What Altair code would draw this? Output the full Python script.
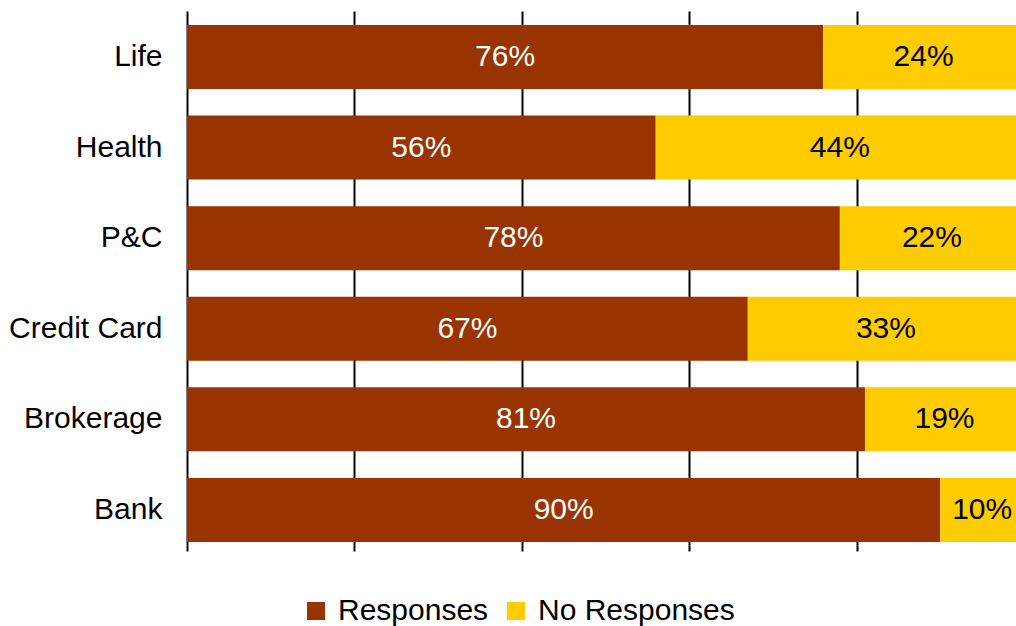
import altair as alt
import pandas as pd

categories = ["Life", "Health", "P&C", "Credit Card", "Brokerage", "Bank"]
responses = [76, 56, 78, 67, 81, 90]
no_responses = [24, 44, 22, 33, 19, 10]
series_names = ["Responses", "No Responses"]
series_colors = ["#993300", "#FFCC00"]
grid_values = [0, 20, 40, 60, 80]

rows = []
for c, r, n in zip(categories, responses, no_responses):
    rows.append({"category": c, "series": series_names[0], "value": r, "order": 0})
    rows.append({"category": c, "series": series_names[1], "value": n, "order": 1})
df = pd.DataFrame(rows)

FONT = "Liberation Sans"
FS = 30

y_scale = alt.Scale(paddingInner=0.2936, paddingOuter=0.094, align=0.82)
x_scale = alt.Scale(domain=[0, 99.044], nice=False, zero=True)

base = alt.Chart(df).transform_stack(
    stack="value", groupby=["category"], as_=["x0", "x1"],
    sort=[alt.SortField("order", order="ascending")]
).transform_calculate(
    mid="(datum.x0 + datum.x1) / 2",
    label="datum.value + '%'"
)

bars = base.mark_bar(clip=True).encode(
    y=alt.Y("category:N", sort=categories, scale=y_scale,
            axis=alt.Axis(title=None, ticks=False, domain=False,
                          labelFontSize=FS, labelFont=FONT, labelColor="black",
                          labelPadding=25)),
    x=alt.X("x0:Q", scale=x_scale,
            axis=alt.Axis(title=None, labels=False, domain=False, ticks=True,
                          tickSize=6, tickColor="black", tickWidth=2,
                          grid=True, gridColor="black", gridWidth=2,
                          values=grid_values)),
    x2="x1:Q",
    color=alt.Color("series:N",
                    scale=alt.Scale(domain=series_names, range=series_colors),
                    sort=series_names,
                    legend=alt.Legend(orient="none", legendX=114, legendY=585,
                                      direction="horizontal", title=None,
                                      labelFontSize=FS, labelFont=FONT,
                                      labelColor="black", labelLimit=0,
                                      symbolType="square",
                                      symbolSize=324, symbolStrokeWidth=0,
                                      labelOffset=7, columnPadding=12)),
)

text = base.mark_text(font=FONT, fontSize=FS).encode(
    y=alt.Y("category:N", sort=categories, scale=y_scale),
    x=alt.X("mid:Q", scale=x_scale),
    text="label:N",
    color=alt.condition("datum.series == 'Responses'", alt.value("white"), alt.value("black")),
)

chart = alt.layer(bars, text).properties(
    width=829, height=534,
    autosize=alt.AutoSizeParams(type="none"),
    padding={"left": 187, "top": 11, "right": 0, "bottom": 81},
    background="white",
).configure_view(stroke=None)

chart.save("out.html", embed_options={"renderer": "svg", "actions": False})
